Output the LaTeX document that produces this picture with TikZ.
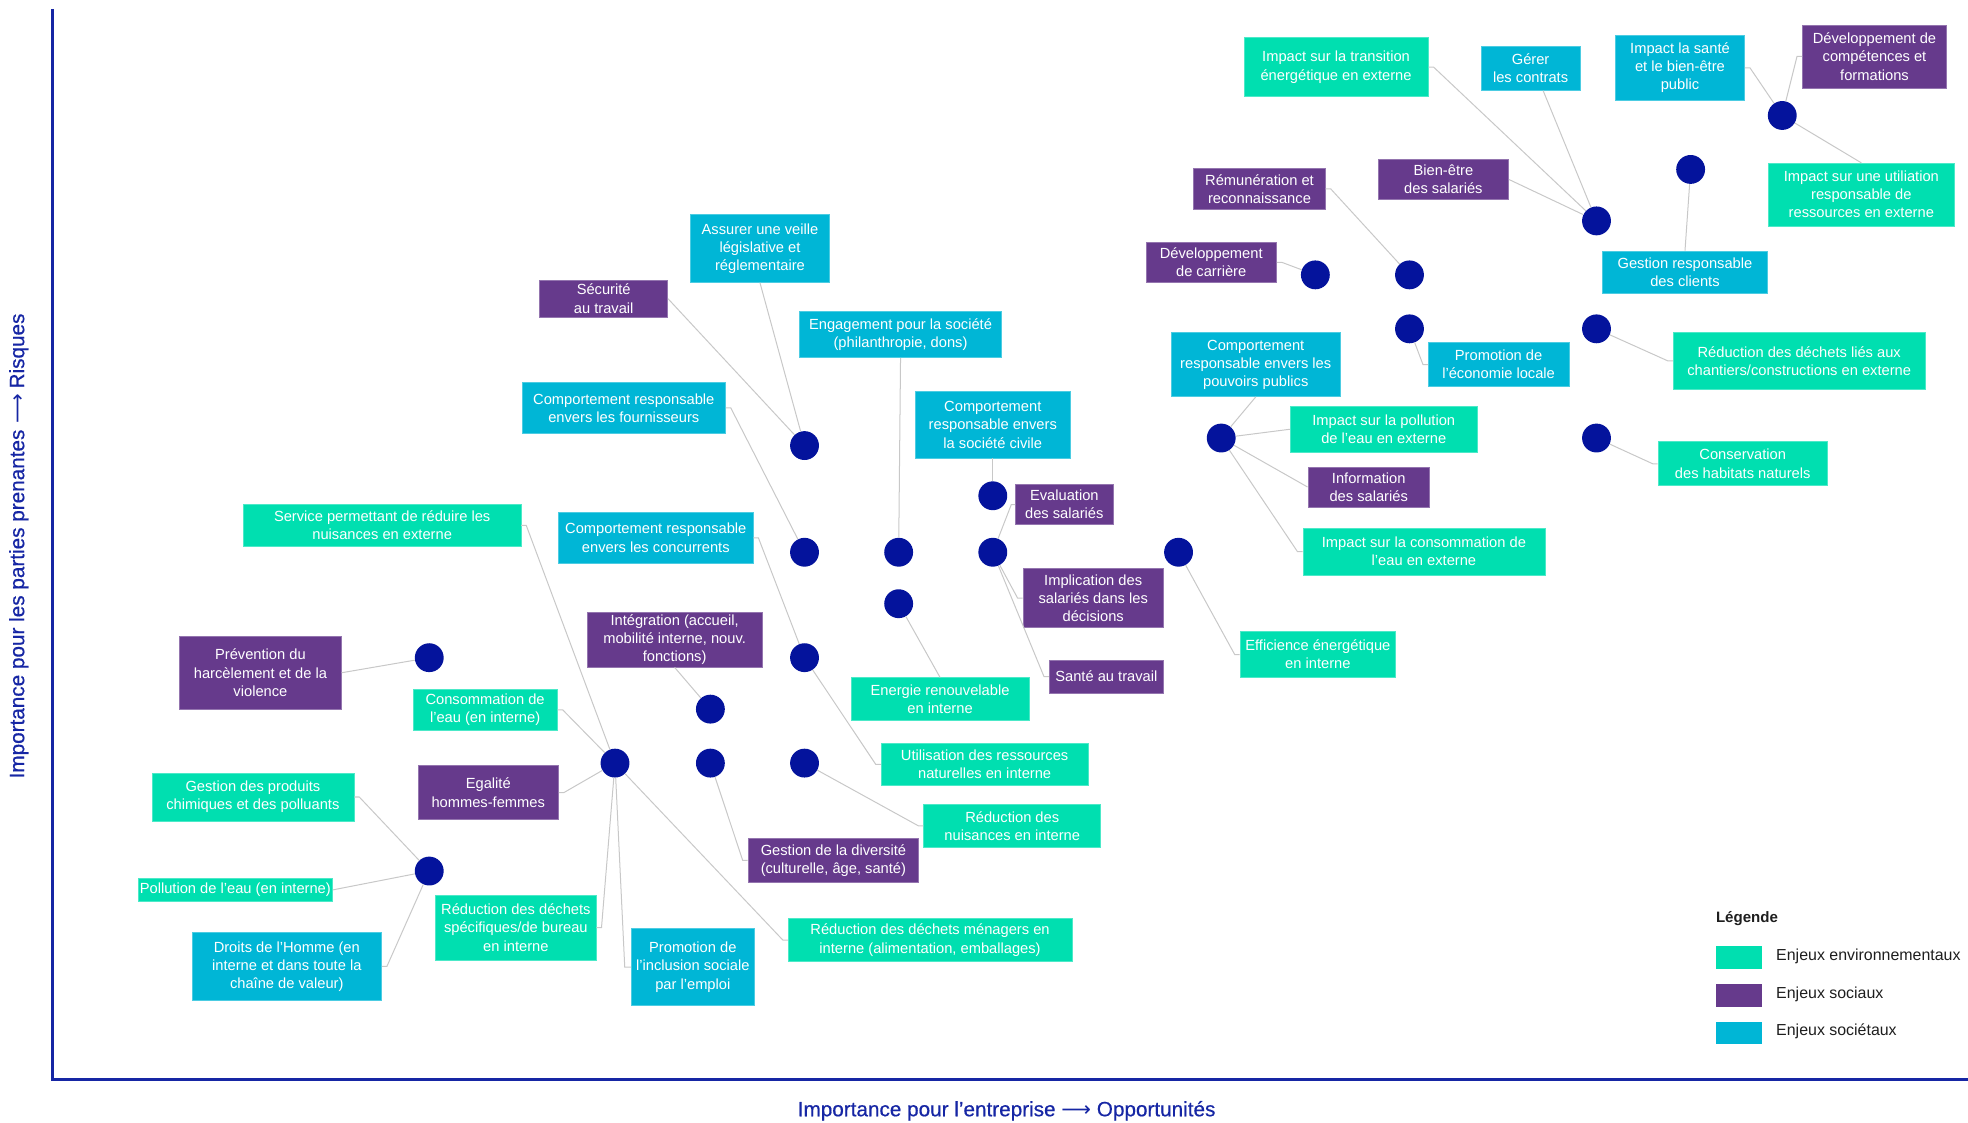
\documentclass[tikz,border=0pt]{standalone}
\usepackage{fontspec}
\setmainfont{Liberation Sans}
\newfontfamily\arrowfont{DejaVu Sans}
\newfontfamily\axisfam{Liberation Sans}[FakeBold=0.6]
\definecolor{envgreen}{HTML}{00DFB0}
\definecolor{socpurple}{HTML}{663A8C}
\definecolor{socblue}{HTML}{00B6D6}
\definecolor{dotblue}{HTML}{04139C}
\definecolor{axisblue}{HTML}{1626A4}
\definecolor{linkgrey}{HTML}{C8C8C8}
\definecolor{legendtext}{HTML}{1E1E1E}
\newcommand{\lblfont}{\fontsize{11.7}{14.5}\selectfont}
\newcommand{\axisfont}{\axisfam\fontsize{16.5}{19}\selectfont}

\begin{document}
\begin{tikzpicture}[x=1pt, y=-1pt,
    lbl/.style = {fill=#1, draw=#1!70!white, line width=0.5pt, text=white, align=center, font=\lblfont, inner sep=0pt},
    env/.style = {lbl=envgreen},
    soc/.style = {lbl=socpurple},
    sct/.style = {lbl=socblue},
    sz/.style 2 args = {minimum width=#1, minimum height=#2},
    dot/.style = {circle, fill=dotblue, minimum size=23, inner sep=0pt},
    link/.style = {draw=linkgrey, line width=0.8pt},
    axislbl/.style = {text=axisblue, font=\axisfont, inner sep=0pt},
    legtxt/.style = {text=legendtext, font=\fontsize{12.7}{15}\selectfont, anchor=west, inner sep=0pt}]
    \useasboundingbox (0,0) rectangle (1568,894);

    % Axes de la matrice
    \draw[axisblue, line width=2pt] (42,7) -- (42,860) -- (1568,860);
    \node[axislbl, rotate=90] (ylab) at (15,435) {Importance pour les parties prenantes {\arrowfont ⟶} Risques};
    \node[axislbl] (xlab) at (802,885) {Importance pour l’entreprise {\arrowfont ⟶} Opportunités};

    % Enjeux
    \node[env, sz={147}{47}] (transition) at (1064.5,53.5) {Impact sur la transition\\énergétique en externe};
    \node[sct, sz={79}{35}] (contrats) at (1219.5,54.5) {Gérer\\les contrats};
    \node[sct, sz={103}{52}] (santepub) at (1338.5,54) {Impact la santé\\et le bien-être\\public};
    \node[soc, sz={115}{50}] (competences) at (1493.5,45) {Développement de\\compétences et\\formations};
    \node[env, sz={148}{50}] (ressext) at (1483,155) {Impact sur une utiliation\\responsable de\\ressources en externe};
    \node[soc, sz={105}{33}] (remuneration) at (1003.5,150.5) {Rémunération et\\reconnaissance};
    \node[soc, sz={104}{32}] (bienetre) at (1150,143) {Bien-être\\des salariés};
    \node[soc, sz={104}{32}] (carriere) at (965,209) {Développement\\de carrière};
    \node[sct, sz={131}{34}] (clients) at (1342.5,217) {Gestion responsable\\des clients};
    \node[sct, sz={135}{51}] (pouvoirs) at (1000.5,290.5) {Comportement\\responsable envers les\\pouvoirs publics};
    \node[sct, sz={112}{35}] (ecolocale) at (1194,290.5) {Promotion de\\l’économie locale};
    \node[env, sz={201}{45}] (chantiers) at (1433.5,287.5) {Réduction des déchets liés aux\\chantiers/constructions en externe};
    \node[env, sz={149}{36}] (pollext) at (1102.5,342) {Impact sur la pollution\\de l’eau en externe};
    \node[soc, sz={97}{32}] (information) at (1090.5,388) {Information\\des salariés};
    \node[env, sz={135}{35}] (habitats) at (1388.5,369.5) {Conservation\\des habitats naturels};
    \node[env, sz={193}{37}] (consoext) at (1134.5,439.5) {Impact sur la consommation de\\l’eau en externe};
    \node[env, sz={124}{37}] (efficience) at (1050,521.5) {Efficience énergétique\\en interne};
    \node[sct, sz={111}{54}] (veille) at (605.5,198) {Assurer une veille\\législative et\\réglementaire};
    \node[soc, sz={102}{30}] (securite) at (481,238) {Sécurité\\au travail};
    \node[sct, sz={161}{37}] (engagement) at (717.5,266.5) {Engagement pour la société\\(philanthropie, dons)};
    \node[sct, sz={162}{40}] (fournisseurs) at (497,325) {Comportement responsable\\envers les fournisseurs};
    \node[sct, sz={124}{53}] (civile) at (791,338.5) {Comportement\\responsable envers\\la société civile};
    \node[soc, sz={78}{32}] (evaluation) at (848,402) {Evaluation\\des salariés};
    \node[env, sz={221}{33}] (nuisext) at (304.5,418.5) {Service permettant de réduire les\\nuisances en externe};
    \node[sct, sz={155}{41}] (concurrents) at (522.5,428.5) {Comportement responsable\\envers les concurrents};
    \node[soc, sz={112}{47}] (implication) at (871,476.5) {Implication des\\salariés dans les\\décisions};
    \node[soc, sz={91}{26}] (santetrav) at (881.5,539) {Santé au travail};
    \node[soc, sz={139}{44}] (integration) at (537.5,509.5) {Intégration (accueil,\\mobilité interne, nouv.\\fonctions)};
    \node[env, sz={142}{34}] (renouvelable) at (749,557) {Energie renouvelable\\en interne};
    \node[soc, sz={129}{58}] (harcelement) at (207.5,536) {Prévention du\\harcèlement et de la\\violence};
    \node[env, sz={115}{33}] (eauint) at (386.5,565.5) {Consommation de\\l’eau (en interne)};
    \node[env, sz={165}{34}] (ressint) at (784.5,609) {Utilisation des ressources\\naturelles en interne};
    \node[soc, sz={112}{43}] (egalite) at (389,631.5) {Egalité\\hommes-femmes};
    \node[env, sz={161}{38}] (chimiques) at (201.5,635) {Gestion des produits\\chimiques et des polluants};
    \node[env, sz={141}{34}] (nuisint) at (806.5,658) {Réduction des\\nuisances en interne};
    \node[soc, sz={136}{35}] (diversite) at (664,685.5) {Gestion de la diversité\\(culturelle, âge, santé)};
    \node[env, sz={155}{18}] (polleauint) at (187.5,709) {Pollution de l’eau (en interne)};
    \node[env, sz={128}{52}] (bureau) at (411,739) {Réduction des déchets\\spécifiques/de bureau\\en interne};
    \node[env, sz={226}{34}] (menagers) at (741,749) {Réduction des déchets ménagers en\\interne (alimentation, emballages)};
    \node[sct, sz={98}{61}] (inclusion) at (552,770.5) {Promotion de\\l’inclusion sociale\\par l’emploi};
    \node[sct, sz={151}{54}] (droits) at (228.5,770) {Droits de l’Homme (en\\interne et dans toute la\\chaîne de valeur)};

    % Points de la matrice
    \node[dot] (d1) at (641,355) {};
    \node[dot] (d2) at (641,440) {};
    \node[dot] (d3) at (716,440) {};
    \node[dot] (d4) at (791,395) {};
    \node[dot] (d5) at (791,440) {};
    \node[dot] (d6) at (716,481) {};
    \node[dot] (d7) at (939,440) {};
    \node[dot] (d8) at (641,524) {};
    \node[dot] (d9) at (566,565) {};
    \node[dot] (d10) at (490,608) {};
    \node[dot] (d11) at (566,608) {};
    \node[dot] (d12) at (641,608) {};
    \node[dot] (d13) at (342,524) {};
    \node[dot] (d14) at (342,694) {};
    \node[dot] (d15) at (973,349) {};
    \node[dot] (d16) at (1048,219) {};
    \node[dot] (d17) at (1123,219) {};
    \node[dot] (d18) at (1123,262) {};
    \node[dot] (d19) at (1272,176) {};
    \node[dot] (d20) at (1347,135) {};
    \node[dot] (d21) at (1420,92) {};
    \node[dot] (d22) at (1272,262) {};
    \node[dot] (d23) at (1272,349) {};

    \draw[link] (securite.east) to (d1);
    \draw[link] (veille.south) to (d1);
    \draw[link] (fournisseurs.east) -- ++(4,0) -- (d2);
    \draw[link] (engagement.south) to (d3);
    \draw[link] (civile.south) to (d4);
    \draw[link] (evaluation.west) -- ++(-3,0) -- (d5);
    \draw[link] (implication.west) -- ++(-4,0) -- (d5);
    \draw[link] (santetrav.west) -- ++(-4,0) -- (d5);
    \draw[link] (renouvelable.north) to (d6);
    \draw[link] (efficience.west) -- ++(-4,0) -- (d7);
    \draw[link] (concurrents.east) -- ++(4,0) -- (d8);
    \draw[link] (ressint.west) -- ++(-4,0) -- (d8);
    \draw[link] (integration.south) to (d9);
    \draw[link] (nuisext.east) -- ++(4,0) -- (d10);
    \draw[link] (eauint.east) -- ++(4,0) -- (d10);
    \draw[link] (egalite.east) -- ++(4,0) -- (d10);
    \draw[link] (bureau.east) -- ++(4,0) -- (d10);
    \draw[link] (inclusion.west) -- ++(-5,0) -- (d10);
    \draw[link] (menagers.west) -- ++(-4,0) -- (d10);
    \draw[link] (diversite.west) -- ++(-4,0) -- (d11);
    \draw[link] (nuisint.west) -- ++(-4,0) -- (d12);
    \draw[link] (harcelement.east) to (d13);
    \draw[link] (chimiques.east) -- ++(4,0) -- (d14);
    \draw[link] (polleauint.east) to (d14);
    \draw[link] (droits.east) -- ++(4,0) -- (d14);
    \draw[link] (pouvoirs.south) to (d15);
    \draw[link] (pollext.west) to (d15);
    \draw[link] (information.west) to (d15);
    \draw[link] (consoext.west) -- ++(-4,0) -- (d15);
    \draw[link] (carriere.east) -- ++(4,0) -- (d16);
    \draw[link] (remuneration.east) -- ++(4,0) -- (d17);
    \draw[link] (ecolocale.west) -- ++(-4,0) -- (d18);
    \draw[link] (transition.east) -- ++(4,0) -- (d19);
    \draw[link] ([xshift=10pt]contrats.south) to (d19);
    \draw[link] (bienetre.east) to (d19);
    \draw[link] (clients.north) to (d20);
    \draw[link] (santepub.east) -- ++(4,0) -- (d21);
    \draw[link] (competences.west) -- ++(-4,0) -- (d21);
    \draw[link] (ressext.north) to (d21);
    \draw[link] (chantiers.west) -- ++(-4,0) -- (d22);
    \draw[link] (habitats.west) -- ++(-4,0) -- (d23);

    % Légende
    \node[text=legendtext, font=\bfseries\fontsize{12}{14}\selectfont, anchor=west, inner sep=0pt] (legende) at (1367,732) {Légende};
    \node[fill=envgreen, sz={37}{18}, inner sep=0pt] (legenv) at (1385.5,763) {};
    \node[fill=socpurple, sz={37}{18}, inner sep=0pt] (legsoc) at (1385.5,793) {};
    \node[fill=socblue, sz={37}{18}, inner sep=0pt] (legsct) at (1385.5,823) {};
    \node[legtxt] (legenvtxt) at (1415,762) {Enjeux environnementaux};
    \node[legtxt] (legsoctxt) at (1415,792) {Enjeux sociaux};
    \node[legtxt] (legscttxt) at (1415,822) {Enjeux sociétaux};
\end{tikzpicture}
\end{document}
